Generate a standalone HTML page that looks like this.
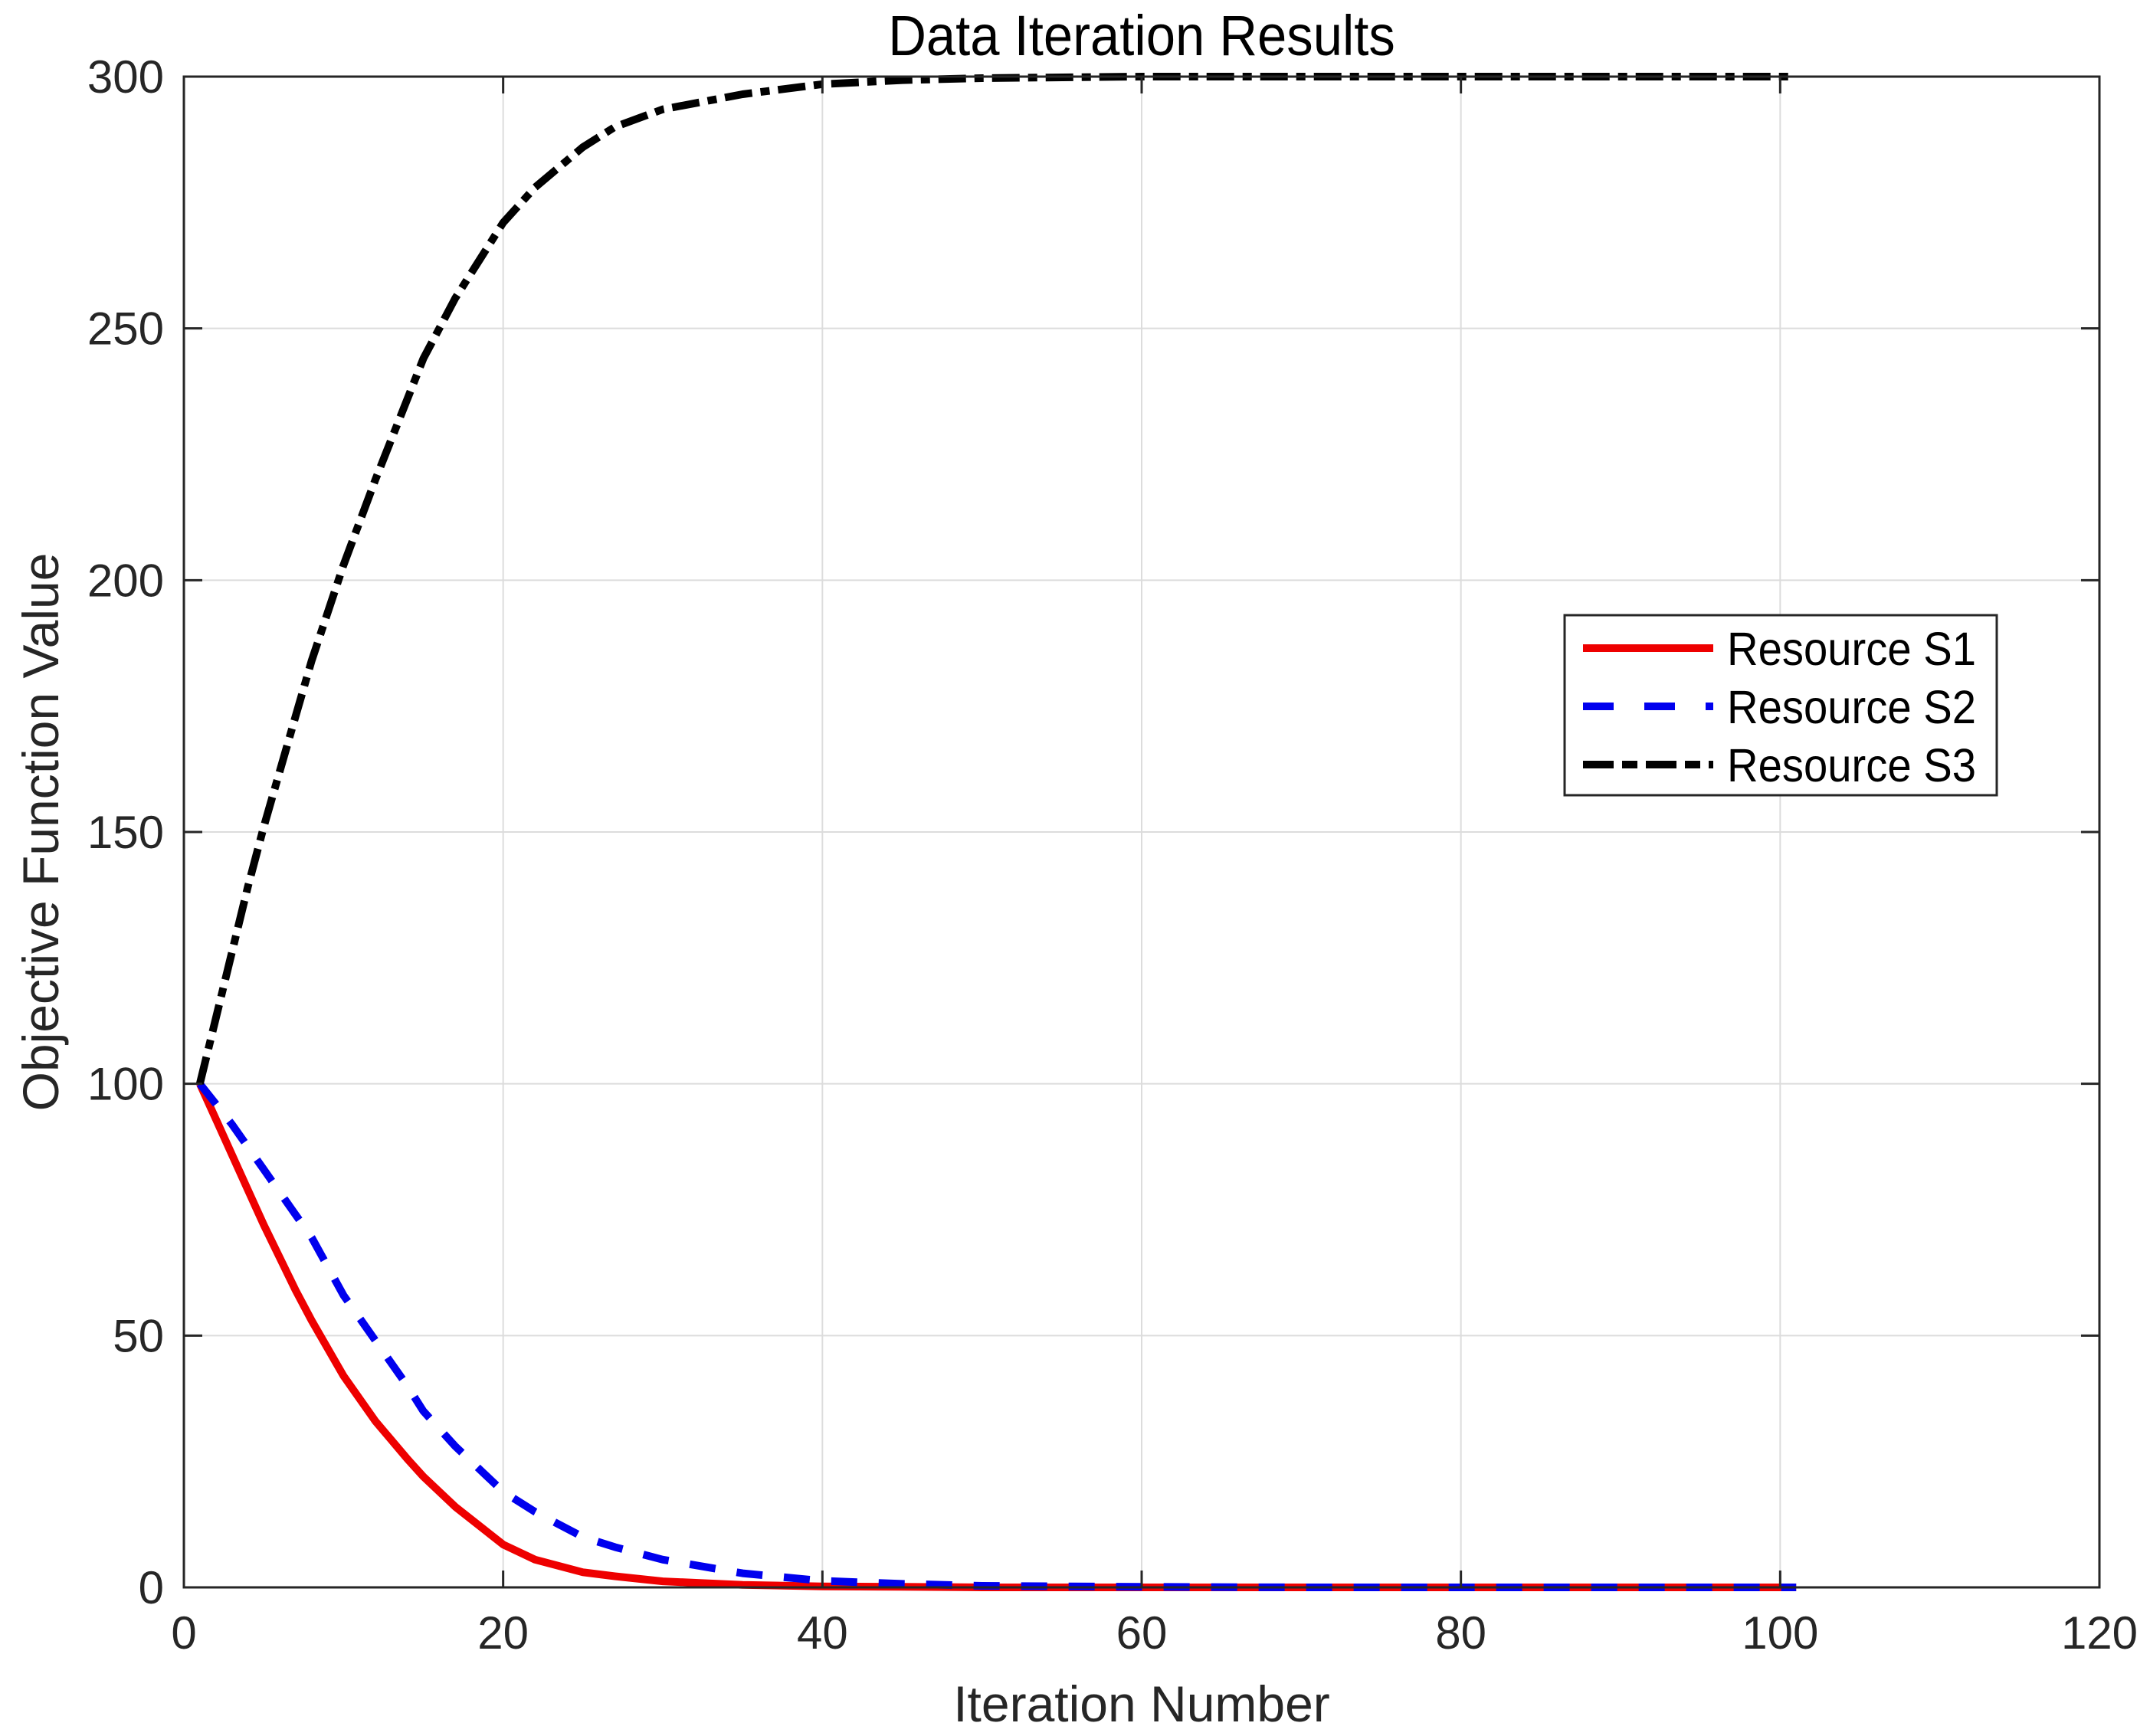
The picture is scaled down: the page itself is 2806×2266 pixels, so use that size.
<!DOCTYPE html>
<html><head><meta charset="utf-8"><style>
html,body{margin:0;padding:0;background:#fff;}
svg{display:block;font-family:"Liberation Sans",Arial,sans-serif;}
</style></head><body>
<svg id="chart" width="2806" height="2266" viewBox="0 0 2806 2266" xmlns="http://www.w3.org/2000/svg">
<rect width="2806" height="2266" fill="#fff"/>
<g id="grid"></g>
<g id="series"></g>
<g id="axes"></g>
<text x="1490" y="72" font-size="74" text-anchor="middle" fill="#000" transform="translate(1490,0) scale(0.93,1) translate(-1490,0)">Data Iteration Results</text>
<text x="1490" y="2247" font-size="66" text-anchor="middle" fill="#262626">Iteration Number</text>
<text x="0" y="0" font-size="66" text-anchor="middle" fill="#262626" transform="translate(76,1086) rotate(-90)">Objective Function Value</text>
<g>
<rect x="2042" y="803" width="564" height="235" fill="#fff" stroke="#262626" stroke-width="3"/>
<line x1="2066" y1="846" x2="2236" y2="846" stroke="#e00" stroke-width="10"/>
<text x="2254" y="868" font-size="61" textLength="325" lengthAdjust="spacingAndGlyphs" fill="#000">Resource S1</text>
<line x1="2066" y1="922" x2="2236" y2="922" stroke="#00e" stroke-width="10" stroke-dasharray="40,40"/>
<text x="2254" y="944" font-size="61" textLength="325" lengthAdjust="spacingAndGlyphs" fill="#000">Resource S2</text>
<line x1="2066" y1="998" x2="2236" y2="998" stroke="#000" stroke-width="10" stroke-dasharray="40,11,20,11"/>
<text x="2254" y="1020" font-size="61" textLength="325" lengthAdjust="spacingAndGlyphs" fill="#000">Resource S3</text>
</g>
</svg>
<script>
const iterations = [1,2,3,4,5,6,7,8,10,12,14,15,17,20,22,25,27,30,35,40,45,50,60,70,80,90,101];
const s1Values = [100,93,86,79,72,65.5,59,53,42,33,25.5,22,16,8.5,5.5,3,2.2,1.2,0.5,0.2,0.1,0,0,0,0,0,0];
const s2Values = [100,96,92,87.5,83,78.5,74,69.5,58,49,40,35,28,19,15,10,8,5.5,2.8,1.3,0.7,0.3,0.1,0,0,0,0];
const s3Values = [100,113,126,139,151,162,173,184,203,220,236,244,256,271,278,286,290,293.5,296.5,298.5,299.3,299.7,300,300,300,300,300];
const xTicks = [0,20,40,60,80,100,120];
const yTicks = [0,50,100,150,200,250,300];

const L=240,R=2740,T=100,B=2072;
const xMin=0,xMax=120,yMin=0,yMax=300;
function xs(v){return L+(v-xMin)/(xMax-xMin)*(R-L);}
function ys(v){return B-(v-yMin)/(yMax-yMin)*(B-T);}
const NS="http://www.w3.org/2000/svg";
function mk(tag,attrs,parent){const e=document.createElementNS(NS,tag);for(const k in attrs)e.setAttribute(k,attrs[k]);parent.appendChild(e);return e;}
const grid=document.getElementById('grid'),axes=document.getElementById('axes'),series=document.getElementById('series');
xTicks.forEach(t=>{
  const x=xs(t);
  if(t>xMin&&t<xMax){const g=mk('line',{x1:x,y1:T,x2:x,y2:B,stroke:'#dcdcdc','stroke-width':2},grid);
  
  }
  const tk=mk('path',{d:`M${x},${B}V${B-22}M${x},${T}V${T+22}`,stroke:'#262626','stroke-width':3,fill:'none'},axes);
  
  
  const lb=mk('text',{x:x,y:B+80,'font-size':60,'text-anchor':'middle',fill:'#262626'},axes);
  lb.textContent=t;
  
  
});
yTicks.forEach(t=>{
  const y=ys(t);
  if(t>yMin&&t<yMax){const g=mk('line',{x1:L,y1:y,x2:R,y2:y,stroke:'#dcdcdc','stroke-width':2},grid);
  
  }
  const tk=mk('path',{d:`M${L},${y}H${L+24}M${R},${y}H${R-24}`,stroke:'#262626','stroke-width':3,fill:'none'},axes);
  
  
  const lb=mk('text',{x:L-26,y:y+21,'font-size':60,'text-anchor':'end',fill:'#262626'},axes);
  lb.textContent=t;
  
  
});
const frame=mk('rect',{x:L,y:T,width:R-L,height:B-T,fill:'none',stroke:'#262626','stroke-width':3},axes);


function pts(vals){return iterations.map((v,i)=>xs(v).toFixed(1)+','+ys(vals[i]).toFixed(1)).join(' ');}
const l1=mk('polyline',{points:pts(s1Values),fill:'none',stroke:'#e00','stroke-width':10,'stroke-linejoin':'round'},series);


const l2=mk('polyline',{points:pts(s2Values),fill:'none',stroke:'#00e','stroke-width':10,'stroke-dasharray':'34,28','stroke-linejoin':'round'},series);


const l3=mk('polyline',{points:pts(s3Values),fill:'none',stroke:'#000','stroke-width':10,'stroke-dasharray':'36,11,12,11','stroke-linejoin':'round'},series);


</script>
</body></html>
